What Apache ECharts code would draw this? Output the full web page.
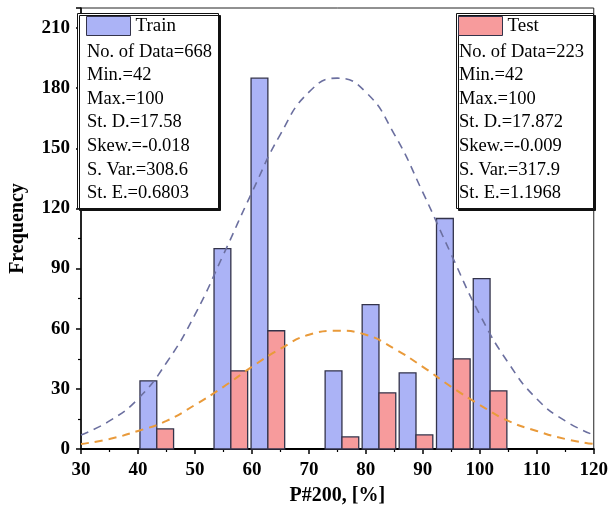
<!DOCTYPE html>
<html>
<head>
<meta charset="utf-8">
<script src="https://cdn.jsdelivr.net/npm/echarts@6/dist/echarts.min.js"></script>
<style>html,body{margin:0;padding:0;background:#fff;}#c{width:611px;height:518px;}</style>
</head>
<body>
<div id="c"></div>
<script>
// ---- data ----
var binCenters = [43.3, 56.3, 62.8, 75.8, 82.3, 88.8, 95.35, 101.8];
var trainCounts = [34, 100, 185, 39, 72, 38, 115, 85];
var testCounts = [10, 39, 59, 6, 28, 7, 45, 29];
var curveX = [30, 35, 40, 45, 50, 55, 60, 65, 70, 75, 80, 85, 90, 95, 100, 105, 110, 115, 120];
var trainCurve = [7, 14, 25, 43, 67, 97, 128, 157, 178, 185, 178, 157, 128, 97, 67, 43, 25, 14, 7];
var testCurve = [2.5, 5, 9, 14, 22, 31, 41, 50, 57, 59, 57, 50, 41, 31, 22, 14, 9, 5, 2.5];
var trainStats = ['No. of Data=668', 'Min.=42', 'Max.=100', 'St. D.=17.58', 'Skew.=-0.018', 'S. Var.=308.6', 'St. E.=0.6803'];
var testStats = ['No. of Data=223', 'Min.=42', 'Max.=100', 'St. D.=17.872', 'Skew.=-0.009', 'S. Var.=317.9', 'St. E.=1.1968'];
var yTicks = [0, 30, 60, 90, 120, 150, 180, 210];

// ---- styles ----
var FONT = '"Liberation Serif","Times New Roman",serif';
var trainFill = '#abb3f6', testFill = '#f79b9c', barBorder = '#33334a';
var halfW = 2.95;

function barSeries(name, counts, side, fill) {
  return {
    name: name, type: 'custom', z: 3,
    itemStyle: { color: fill, borderColor: barBorder, borderWidth: 1 },
    data: binCenters.map(function (c, i) { return [c, counts[i]]; }),
    encode: { x: 0, y: 1 },
    renderItem: function (params, api) {
      var c = api.value(0), v = api.value(1);
      var x0 = side < 0 ? c - halfW : c, x1 = side < 0 ? c : c + halfW;
      var p0 = api.coord([x0, v]), p1 = api.coord([x1, 0]);
      return {
        type: 'rect',
        shape: { x: p0[0], y: p0[1], width: p1[0] - p0[0], height: p1[1] - p0[1] },
        style: { fill: fill, stroke: barBorder, lineWidth: 1.3 }
      };
    }
  };
}

function lineSeries(name, ys, color, w) {
  return {
    name: name, type: 'line', smooth: 0.5, showSymbol: false, symbol: 'none', z: 4,
    data: curveX.map(function (x, i) { return [x, ys[i]]; }),
    lineStyle: { color: color, width: w, type: [8, 6] },
    silent: true
  };
}

var chart = echarts.init(document.getElementById('c'), null, { renderer: 'canvas' });
var option = {
  animation: false,
  backgroundColor: '#fff',
  grid: { left: 76, right: 15, top: 8, bottom: 69, show: true, borderColor: '#222', borderWidth: 1 },
  xAxis: {
    type: 'value', min: 30, max: 120, interval: 10,
    name: 'P#200, [%]', nameLocation: 'middle', nameGap: 37,
    nameTextStyle: { fontFamily: FONT, fontWeight: 'bold', fontSize: 20, color: '#000' },
    axisLine: { show: true, onZero: false, lineStyle: { color: '#000', width: 2 } },
    axisTick: { show: true, inside: false, length: 5, lineStyle: { color: '#000', width: 1.5 } },
    minorTick: { show: true, splitNumber: 2, length: 3, lineStyle: { color: '#000', width: 1.2 } },
    splitLine: { show: false },
    axisLabel: { fontFamily: FONT, fontWeight: 'bold', fontSize: 19, color: '#000', margin: 12 }
  },
  yAxis: {
    type: 'value', min: 0, max: 220, interval: 30,
    name: 'Frequency', nameLocation: 'middle', nameGap: 53,
    nameTextStyle: { fontFamily: FONT, fontWeight: 'bold', fontSize: 20, color: '#000' },
    axisLine: { show: true, lineStyle: { color: '#000', width: 1.5 } },
    axisTick: { show: true, inside: false, length: 5, lineStyle: { color: '#000', width: 1.5 } },
    minorTick: { show: true, splitNumber: 2, length: 3, lineStyle: { color: '#000', width: 1.2 } },
    splitLine: { show: false },
    axisLabel: {
      fontFamily: FONT, fontWeight: 'bold', fontSize: 19, color: '#000', margin: 11,
      showMaxLabel: false,
      formatter: function (v) { return yTicks.indexOf(v) >= 0 ? String(v) : ''; }
    }
  },
  legend: [
    {
      left: 86, top: 16, z: 50, zlevel: 1, itemWidth: 44, itemHeight: 19, itemGap: 0, selectedMode: false,
      padding: 0,
      textStyle: { fontFamily: FONT, fontSize: 19, color: '#000' },
      data: [{ name: 'Train', icon: 'rect', itemStyle: { color: trainFill, borderColor: barBorder, borderWidth: 1 } }]
    },
    {
      left: 458, top: 16, z: 50, zlevel: 1, itemWidth: 44, itemHeight: 19, itemGap: 0, selectedMode: false,
      padding: 0,
      textStyle: { fontFamily: FONT, fontSize: 19, color: '#000' },
      data: [{ name: 'Test', icon: 'rect', itemStyle: { color: testFill, borderColor: barBorder, borderWidth: 1 } }]
    }
  ],
  graphic: [
    {
      type: 'rect', left: 77, top: 13, z: 10,
      shape: { width: 141, height: 195 },
      style: { fill: '#fff', stroke: '#111', lineWidth: 1, shadowColor: '#111', shadowOffsetX: 2, shadowOffsetY: 2, shadowBlur: 0 }
    },
    {
      type: 'text', left: 87, top: 40, z: 11,
      style: { text: trainStats.join('\n'), font: '18.5px ' + FONT, fill: '#000', lineHeight: 23.6 }
    },
    {
      type: 'rect', left: 456, top: 13, z: 10,
      shape: { width: 137, height: 195 },
      style: { fill: '#fff', stroke: '#111', lineWidth: 1, shadowColor: '#111', shadowOffsetX: 2, shadowOffsetY: 2, shadowBlur: 0 }
    },
    {
      type: 'text', left: 459, top: 40, z: 11,
      style: { text: testStats.join('\n'), font: '18.5px ' + FONT, fill: '#000', lineHeight: 23.6 }
    }
  ],
  series: [
    barSeries('Train', trainCounts, -1, trainFill),
    barSeries('Test', testCounts, 1, testFill),
    lineSeries('TrainFit', trainCurve, '#6b6f9f', 1.6),
    lineSeries('TestFit', testCurve, '#e99a3a', 2)
  ]
};
chart.setOption(option);
</script>
</body>
</html>
